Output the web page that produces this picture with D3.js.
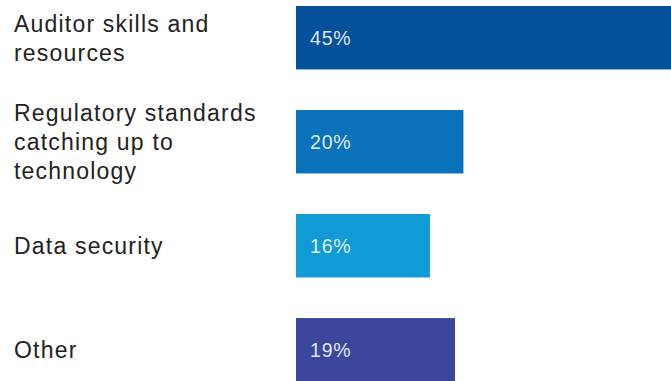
<!DOCTYPE html>
<html>
<head>
<meta charset="utf-8">
<script src="https://cdn.jsdelivr.net/npm/d3@7"></script>
<style>
  html, body { margin: 0; padding: 0; background: #fff; }
  svg { display: block; }
  .cat { font-family: "Liberation Sans", Arial, sans-serif; font-size: 23px; letter-spacing: 1.2px; fill: #222; }
  .val { font-family: "Liberation Sans", Arial, sans-serif; font-size: 19.5px; letter-spacing: 0.8px; fill: #fff; fill-opacity: 0.88; }
</style>
</head>
<body>
<div class="chart-wrapper"></div>
<script>
const categories = ['Auditor skills and\nresources', 'Regulatory standards\ncatching up to\ntechnology', 'Data security', 'Other']
const values = [45, 20, 16, 19]
const colors = ['#05509a', '#0a72bb', '#119bd6', '#3b479c']

const width = 671, height = 381
const barLeft = 296

const svg = d3.select('.chart-wrapper')
.append('svg')
.attr('width', width)
.attr('height', height)

let x = d3.scaleLinear()
.domain([0, 45])
.range([0, 376.7])

let y = d3.scaleBand()
.domain(categories)
.range([6, 381.5])
.paddingInner(0.39)
.paddingOuter(0)

const rows = svg.append('g')
.selectAll('g')
.data(categories)
.enter()
.append('g')

rows.append('rect')
.attr('x', barLeft)
.attr('y', d => y(d))
.attr('width', (d, i) => x(values[i]))
.attr('height', y.bandwidth())
.style('fill', (d, i) => colors[i])

rows.append('text')
.attr('class', 'val')
.attr('x', barLeft + 14)
.attr('y', d => y(d) + y.bandwidth() / 2)
.attr('dy', '0.36em')
.text((d, i) => values[i] + '%')

const lineH = 29

rows.append('text')
.attr('class', 'cat')
.attr('x', 14)
.each(function(d) {
    let lines = d.split('\n')
    let mid = y(d) + y.bandwidth() / 2
    let first = mid - (lines.length - 1) * lineH / 2
    d3.select(this)
    .selectAll('tspan')
    .data(lines)
    .enter()
    .append('tspan')
    .attr('x', 14)
    .attr('y', (l, j) => first + j * lineH)
    .attr('dy', '0.36em')
    .text(l => l)
})
</script>
</body>
</html>
